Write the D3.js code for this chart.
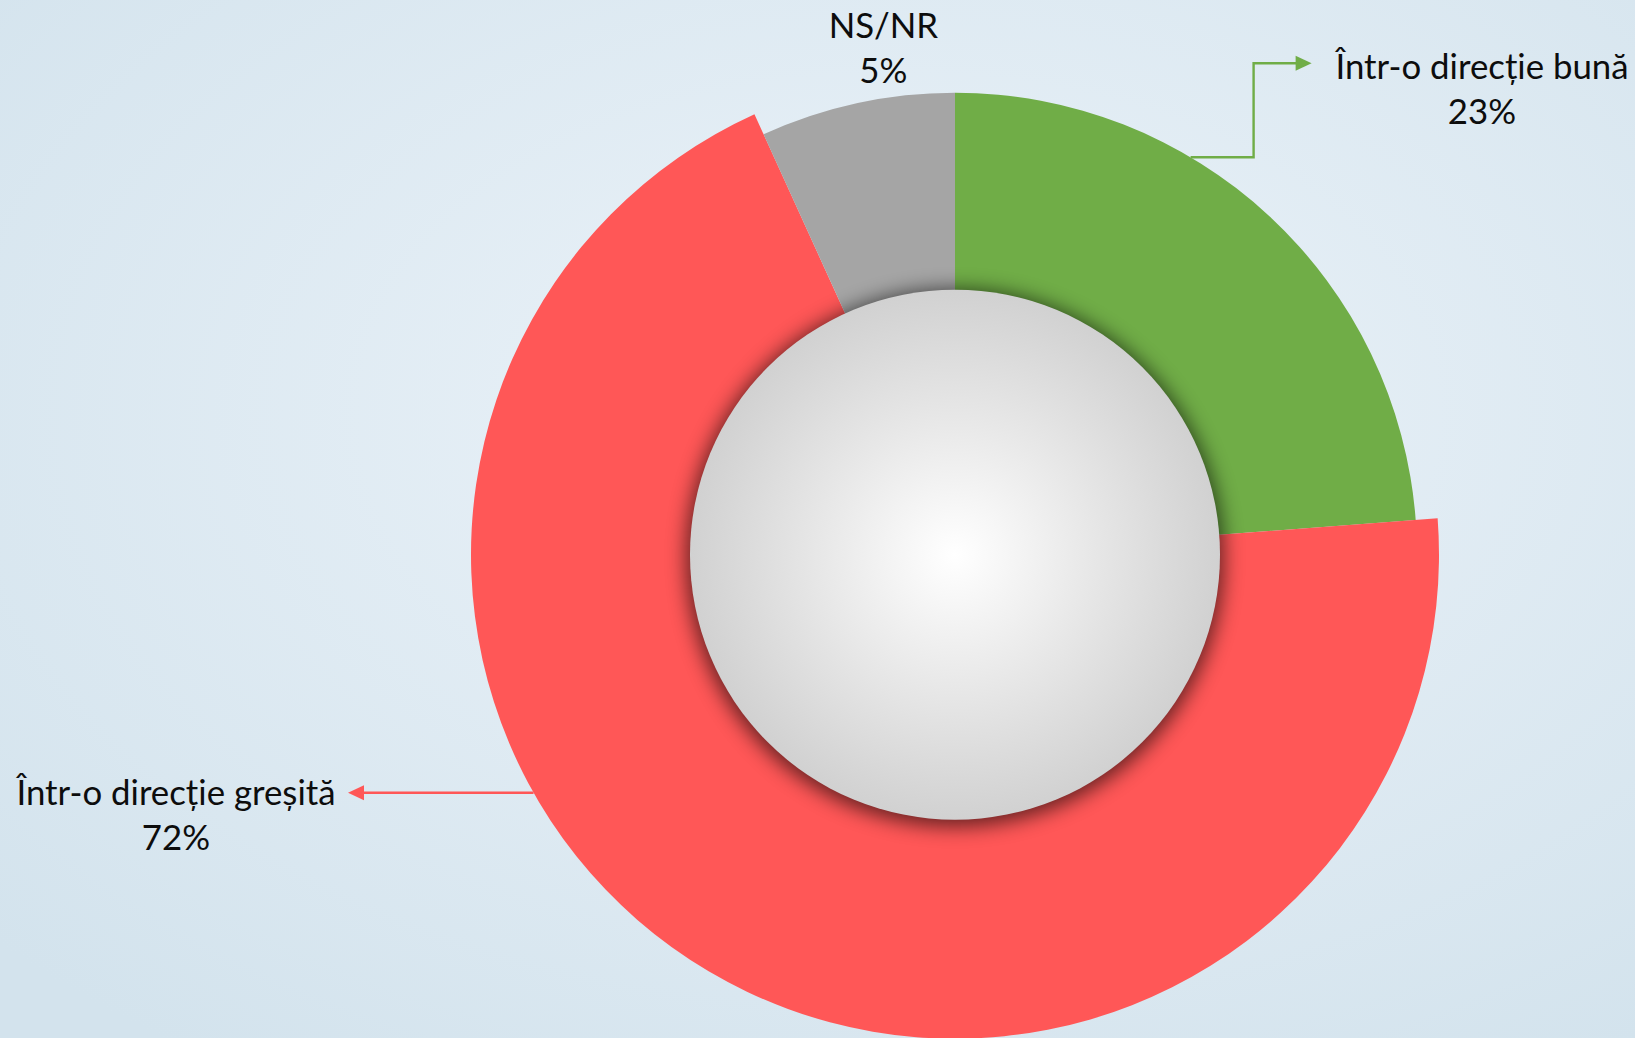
<!DOCTYPE html>
<html>
<head>
<meta charset="utf-8">
<script src="https://cdn.jsdelivr.net/npm/d3@7"></script>
<style>
  html, body { margin: 0; padding: 0; overflow: hidden; }
  svg { display: block; }
</style>
</head>
<body>
<svg id="chart" width="1635" height="1038"></svg>
<script>
// ---- data ----
const categories = ["Într-o direcție bună", "Într-o direcție greșită", "NS/NR"];
const shares = [23.8, 69.4, 6.8];           // slice sizes as drawn
const percentLabels = ["23%", "72%", "5%"]; // printed data labels
const colors = ["#70AD47", "#FF5757", "#A5A5A5"];

// ---- layout ----
const W = 1635, H = 1038;
const cx = 955, cy = 554.7;
const outerR = [462, 484, 462];
const holeR = 265;
const fontSize = 34.8;

const svg = d3.select("#chart");
const defs = svg.append("defs");

const bg = defs.append("radialGradient").attr("id", "bg")
  .attr("cx", "55%").attr("cy", "40%").attr("r", "75%");
bg.append("stop").attr("offset", "0%").attr("stop-color", "#ecf3f9");
bg.append("stop").attr("offset", "100%").attr("stop-color", "#d3e3ed");

const disc = defs.append("radialGradient").attr("id", "disc")
  .attr("cx", "50%").attr("cy", "50%").attr("r", "50%");
disc.append("stop").attr("offset", "0%").attr("stop-color", "#ffffff");
disc.append("stop").attr("offset", "100%").attr("stop-color", "#d1d1d1");

const blur = defs.append("filter").attr("id", "shadow")
  .attr("x", "-30%").attr("y", "-30%").attr("width", "160%").attr("height", "160%");
blur.append("feGaussianBlur").attr("stdDeviation", 10);

svg.append("rect").attr("width", W).attr("height", H).attr("fill", "url(#bg)");

const data = categories.map((c, i) => ({ name: c, value: shares[i], label: percentLabels[i], color: colors[i], r: outerR[i] }));

const pie = d3.pie().sort(null).value(d => d.value);
const arcs = pie(data);

const g = svg.append("g").attr("transform", `translate(${cx},${cy})`);

g.selectAll("path.slice").data(arcs).join("path")
  .attr("class", "slice")
  .attr("fill", d => d.data.color)
  .attr("d", d => d3.arc().innerRadius(holeR - 40).outerRadius(d.data.r)(d));

// inner disc with soft shadow
g.append("circle").attr("r", holeR + 4).attr("cy", 3)
  .attr("fill", "#000").attr("opacity", 0.6).attr("filter", "url(#shadow)");
g.append("circle").attr("r", holeR).attr("fill", "url(#disc)");

// ---- leader lines ----
const lead = svg.append("g");
function arrowHead(x, y, dir, color) {
  const L = 16, hw = 7.5;
  lead.append("path")
    .attr("d", `M${x},${y} L${x - dir * L},${y - hw} L${x - dir * L},${y + hw} Z`)
    .attr("fill", color);
}

// green leader: from slice edge, right, up, right to the label
{
  const a = arcs[0];
  const y0 = 157.3;
  const x0 = cx + Math.sqrt(a.data.r * a.data.r - (y0 - cy) * (y0 - cy));
  const xk = 1253.6, y1 = 63.3, xt = 1311.6;
  lead.append("path")
    .attr("d", `M${x0},${y0} H${xk} V${y1} H${xt - 12}`)
    .attr("fill", "none").attr("stroke", a.data.color).attr("stroke-width", 2.4);
  arrowHead(xt, y1, 1, a.data.color);
}
// red leader: from slice edge, left to the label
{
  const a = arcs[1];
  const y0 = 792.7;
  const x0 = cx - Math.sqrt(a.data.r * a.data.r - (y0 - cy) * (y0 - cy));
  const xt = 348;
  lead.append("path")
    .attr("d", `M${x0},${y0} H${xt + 12}`)
    .attr("fill", "none").attr("stroke", a.data.color).attr("stroke-width", 2.4);
  arrowHead(xt, y0, -1, a.data.color);
}

// ---- labels ----
const labelPos = [
  { x: 1482, y: 79.3 },
  { x: 176, y: 805 },
  { x: 883.4, y: 38.3 }
];
const lineGap = 44.6;
const labels = svg.append("g")
  .attr("font-family", "Lato, 'Open Sans', sans-serif")
  .attr("font-size", fontSize)
  .attr("fill", "#0d0d0d")
  .attr("text-anchor", "middle");
arcs.forEach((a, i) => {
  const p = labelPos[i];
  const t = labels.append("text").attr("x", p.x).attr("y", p.y);
  t.append("tspan").attr("x", p.x).attr("y", p.y).text(a.data.name);
  t.append("tspan").attr("x", p.x).attr("y", p.y + lineGap).text(a.data.label);
});
</script>
</body>
</html>
